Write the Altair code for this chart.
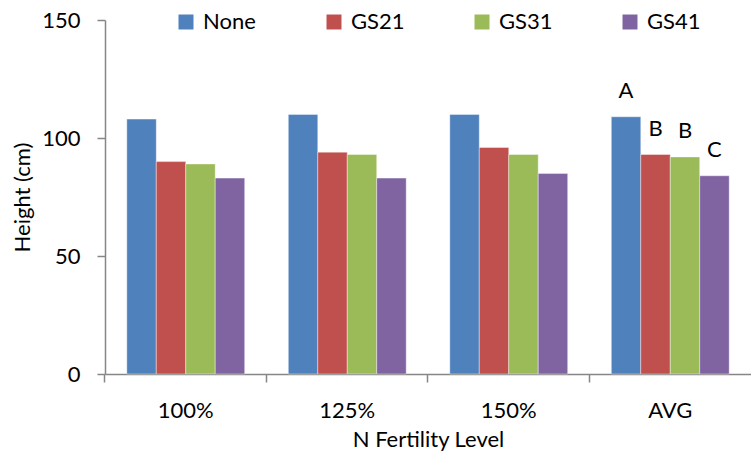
import altair as alt
import pandas as pd

# Plant height by N fertility level and growth-stage treatment
levels = ["100%", "125%", "150%", "AVG"]
treatments = ["None", "GS21", "GS31", "GS41"]
colors = ["#4F81BD", "#C0504D", "#9BBB59", "#8064A2"]

height_none = [108, 110, 110, 109]
height_gs21 = [90, 94, 96, 93]
height_gs31 = [89, 93, 93, 92]
height_gs41 = [83, 83, 85, 84]

# Mean-separation letters shown over the AVG group
avg_letters = ["A", "B", "B", "C"]

series = [height_none, height_gs21, height_gs31, height_gs41]
rows = []
for t_idx, (treat, vals) in enumerate(zip(treatments, series)):
    for l_idx, (lvl, v) in enumerate(zip(levels, vals)):
        letter = avg_letters[t_idx] if lvl == "AVG" else ""
        rows.append({"level": lvl, "treatment": treat, "height": v, "letter": letter})
df = pd.DataFrame(rows)

FONT = "Lato"
FS = 22

x_scale = alt.Scale(paddingInner=0.27, paddingOuter=0.135)
xoff_scale = alt.Scale(paddingInner=0, paddingOuter=0)
y_scale = alt.Scale(domain=[0, 150], nice=False, zero=True)

x_enc = alt.X(
    "level:N",
    sort=levels,
    scale=x_scale,
    axis=alt.Axis(
        title="N Fertility Level",
        labelAngle=0,
        bandPosition=-0.185,
        tickSize=8,
        labelPadding=18,
        titleY=72,
        titleBaseline="alphabetic",
    ),
)
xoff_enc = alt.XOffset("treatment:N", sort=treatments, scale=xoff_scale)
y_enc = alt.Y(
    "height:Q",
    scale=y_scale,
    stack=None,
    axis=alt.Axis(
        title="Height (cm)",
        values=[0, 50, 100, 150],
        grid=False,
        tickSize=8,
        labelPadding=17,
        titleAngle=-90,
        titleX=-83,
        titleY=177,
        titleAlign="center",
        titleBaseline="middle",
    ),
)

bars = alt.Chart(df).mark_bar(stroke="white", strokeWidth=0.8, strokeOpacity=0.5).encode(
    x=x_enc,
    xOffset=xoff_enc,
    y=y_enc,
    color=alt.Color(
        "treatment:N",
        sort=treatments,
        scale=alt.Scale(domain=treatments, range=colors),
        legend=alt.Legend(
            title=None,
            orient="none",
            legendX=70,
            legendY=-9,
            direction="horizontal",
            columns=4,
            gridAlign="all",
            columnPadding=66,
            symbolType="square",
            symbolSize=225,
            symbolStrokeWidth=0,
            labelOffset=6,
            padding=0,
        ),
    ),
)

letters = alt.Chart(df).transform_filter("datum.letter != ''").mark_text(
    baseline="alphabetic", dy=-19, fontSize=FS, font=FONT, color="black"
).encode(
    x=alt.X("level:N", sort=levels, scale=x_scale),
    xOffset=alt.XOffset("treatment:N", sort=treatments, scale=xoff_scale),
    y=alt.Y("height:Q", scale=y_scale),
    text="letter:N",
)

chart = (
    alt.layer(bars, letters)
    .properties(
        width=646,
        height=354,
        padding={"left": 105, "top": 20, "right": 0, "bottom": 78},
        autosize=alt.AutoSizeParams(type="none"),
        background="white",
    )
    .configure_view(stroke=None)
    .configure_axis(
        labelFont=FONT,
        titleFont=FONT,
        labelFontSize=FS,
        titleFontSize=FS,
        labelColor="black",
        titleColor="black",
        titleFontWeight="normal",
        domainColor="#868686",
        tickColor="#868686",
        domainWidth=1.5,
        tickWidth=1.5,
    )
    .configure_legend(
        labelFont=FONT,
        labelFontSize=FS,
        labelColor="black",
    )
)

chart.save("out.html", embed_options={"renderer": "svg", "actions": False})
